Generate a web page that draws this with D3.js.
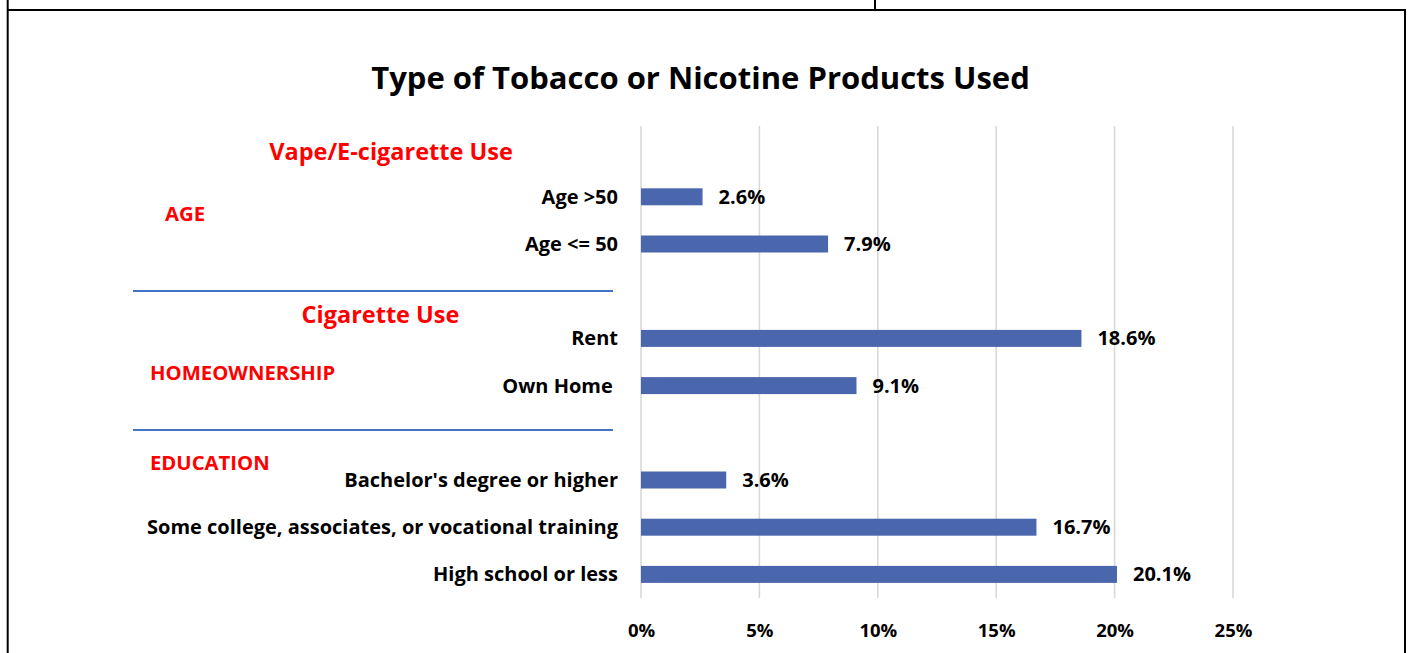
<!DOCTYPE html>
<html>
<head>
<meta charset="utf-8">
<script src="https://cdn.jsdelivr.net/npm/d3@7"></script>
<style>
  html, body { margin: 0; padding: 0; background: #fff; }
  svg { display: block; font-family: "Open Sans", "Noto Sans", sans-serif; }
  text { white-space: pre; }
</style>
</head>
<body>
<svg id="chart" width="1408" height="653"></svg>
<script>
// Rows from top to bottom; empty labels are spacer rows between groups.
const categories = [
  "",
  "Age >50",
  "Age <= 50",
  "",
  "Rent",
  "Own Home ",
  "",
  "Bachelor's degree or higher",
  "Some college, associates, or vocational training",
  "High school or less"
];
const values = [null, 2.6, 7.9, null, 18.6, 9.1, null, 3.6, 16.7, 20.1];
const xTicks = [0, 5, 10, 15, 20, 25];
const chartTitle = "Type of Tobacco or Nicotine Products Used";
const sectionTitles = ["Vape/E-cigarette Use", "Cigarette Use"];
const groupNames = ["AGE", "HOMEOWNERSHIP", "EDUCATION"];

const FONT = "'Open Sans', 'Noto Sans', sans-serif";
const svg = d3.select("#chart");
const rows = categories.map((c, i) => ({ key: i, label: c, value: values[i] }));

const x = d3.scaleLinear().domain([0, 25]).range([641, 1233]);
const y = d3.scaleBand()
  .domain(rows.map(d => d.key))
  .range([126, 598])
  .paddingInner(0.64)
  .paddingOuter(0.32);

// Frame of the surrounding table cell
const frame = svg.append("g").attr("stroke", "#000").attr("stroke-width", 2).attr("fill", "none");
frame.append("line").attr("x1", 7.7).attr("x2", 7.7).attr("y1", 0).attr("y2", 653);
frame.append("line").attr("x1", 7).attr("x2", 1406).attr("y1", 10).attr("y2", 10);
frame.append("line").attr("x1", 875).attr("x2", 875).attr("y1", 0).attr("y2", 10);
frame.append("line").attr("x1", 1405).attr("x2", 1405).attr("y1", 10).attr("y2", 653);

// Vertical gridlines
svg.append("g")
  .selectAll("line")
  .data(xTicks)
  .join("line")
  .attr("x1", d => x(d)).attr("x2", d => x(d))
  .attr("y1", 126).attr("y2", 598)
  .attr("stroke", "#d9d9d9")
  .attr("stroke-width", 1.6);

// X axis tick labels
const xAxis = d3.axisBottom(x)
  .tickValues(xTicks)
  .tickFormat(d => d + "%")
  .tickSize(0)
  .tickPadding(0);
const xg = svg.append("g").attr("transform", "translate(0,623)").call(xAxis);
xg.select(".domain").remove();
xg.selectAll("text")
  .attr("dy", null)
  .attr("y", 14)
  .attr("fill", "#000")
  .style("font-family", FONT)
  .style("font-weight", 700)
  .style("font-size", "18.5px");

// Bars
const data = rows.filter(d => d.value != null);
svg.append("g")
  .selectAll("rect")
  .data(data)
  .join("rect")
  .attr("x", x(0))
  .attr("y", d => y(d.key))
  .attr("width", d => x(d.value) - x(0))
  .attr("height", y.bandwidth())
  .attr("fill", "#4a66ac");

// Value labels
svg.append("g")
  .selectAll("text")
  .data(data)
  .join("text")
  .attr("x", d => x(d.value) + 16)
  .attr("y", d => y(d.key) + y.bandwidth() / 2 + 7)
  .attr("font-size", 20)
  .attr("font-weight", 700)
  .attr("fill", "#000")
  .text(d => d.value.toFixed(1) + "%");

// Category labels (y axis)
const yAxis = d3.axisLeft(y)
  .tickFormat(k => categories[k])
  .tickSize(0)
  .tickPadding(0);
const yg = svg.append("g").attr("transform", "translate(618,0)").call(yAxis);
yg.select(".domain").remove();
yg.selectAll("text")
  .attr("dy", null)
  .attr("y", 7)
  .attr("fill", "#000")
  .style("font-family", FONT)
  .style("font-weight", 700)
  .style("font-size", "20px");

// Title
svg.append("text")
  .attr("x", 700.5).attr("y", 89)
  .attr("text-anchor", "middle")
  .attr("font-size", 31)
  .attr("font-weight", 700)
  .attr("fill", "#000")
  .text(chartTitle);

// Section headings
const red = "#ff0000";
svg.append("text")
  .attr("x", 391).attr("y", 160)
  .attr("text-anchor", "middle")
  .attr("font-size", 23.5).attr("font-weight", 700).attr("fill", red)
  .text(sectionTitles[0]);
svg.append("text")
  .attr("x", 380.5).attr("y", 323)
  .attr("text-anchor", "middle")
  .attr("font-size", 23.5).attr("font-weight", 700).attr("fill", red)
  .text(sectionTitles[1]);

// Group labels
const groupPos = [[165, 221], [150, 380], [150, 470]];
svg.append("g")
  .selectAll("text")
  .data(groupNames)
  .join("text")
  .attr("x", (d, i) => groupPos[i][0])
  .attr("y", (d, i) => groupPos[i][1])
  .attr("font-size", 20.3)
  .attr("font-weight", 700)
  .attr("fill", red)
  .text(d => d);

// Separator rules between groups
svg.append("g")
  .selectAll("line")
  .data([291, 430])
  .join("line")
  .attr("x1", 133).attr("x2", 613)
  .attr("y1", d => d).attr("y2", d => d)
  .attr("stroke", "#4472c4")
  .attr("stroke-width", 2);
</script>
</body>
</html>
